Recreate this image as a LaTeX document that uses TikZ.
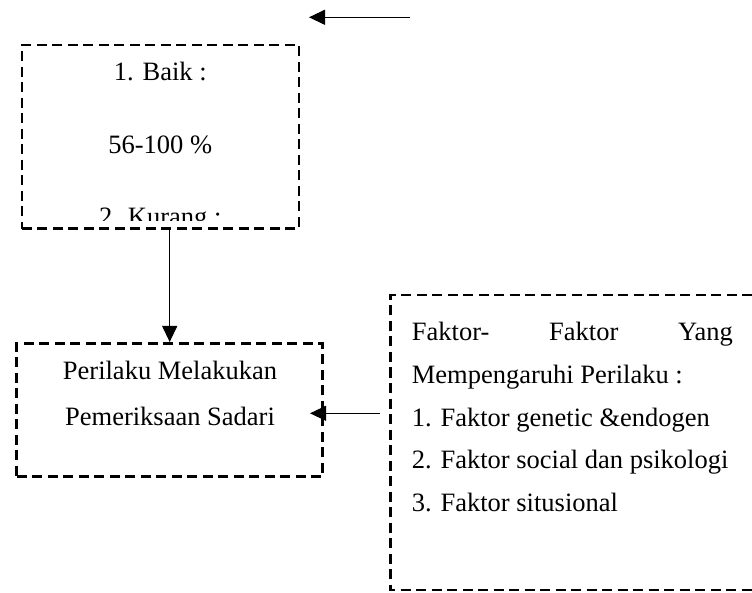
\documentclass[tikz,border=0pt]{standalone}
\usepackage{fontspec}
\setmainfont{Liberation Serif}
\usetikzlibrary{arrows.meta}
\begin{document}
\begin{tikzpicture}[x=1pt,y=-1pt,
  dbox/.style={draw=black, line width=2.6pt, dash pattern=on 10pt off 5.5pt, inner sep=0pt},
  arr/.style={line width=1.2pt, -{Triangle[length=16pt,width=15pt]}},
  txt/.style={font=\fontsize{26.5}{32}\selectfont, inner sep=0pt, anchor=base}
]
\useasboundingbox (0,0) rectangle (752,593);

% upper box with category ranges
\node[dbox, minimum width=277pt, minimum height=183.7pt] (kat) at (160.3,136.8) {};
\node[txt] (baik) at (160.3,81) {1. Baik :};
\node[txt] (persen) at (160.3,153.5) {56-100 \%};
\begin{scope}
  \clip (23,200) rectangle (298,220.5);
  \node[txt] (kurang) at (160.3,225.5) {2. Kurang :};
\end{scope}

% lower box: behaviour
\node[dbox, minimum width=306pt, minimum height=133.4pt] (perilaku) at (169.7,410) {};
\node[txt] (p1) at (170,380) {Perilaku Melakukan};
\node[txt] (p2) at (170,425.5) {Pemeriksaan Sadari};

% right box: influencing factors (runs off the right edge)
\draw[draw=black, line width=2.6pt, dash pattern=on 10pt off 5.5pt]
  (752,295) -- (390.5,295) -- (390.5,590) -- (752,590);
\coordinate (fakL) at (380,413.3);
\node[txt, anchor=base west] (f1) at (411.7,341) {\makebox[321pt][s]{Faktor-\hfill Faktor\hfill Yang}};
\node[txt, anchor=base west] (f2) at (411.7,383.5) {Mempengaruhi Perilaku :};
\node[txt, anchor=base west] (f3) at (411.7,426) {1. Faktor genetic \&endogen};
\node[txt, anchor=base west] (f4) at (411.7,468.5) {2. Faktor social dan psikologi};
\node[txt, anchor=base west] (f5) at (411.7,511) {3. Faktor situsional};

% connectors
\coordinate (topR) at (410,17.3);
\coordinate (topL) at (309,17.3);
\draw[arr] (topR) -- (topL);
\draw[arr] (kat.south -| perilaku.north) -- (perilaku.north);
\draw[arr] (fakL) -- (fakL -| 310,0);
\end{tikzpicture}
\end{document}
